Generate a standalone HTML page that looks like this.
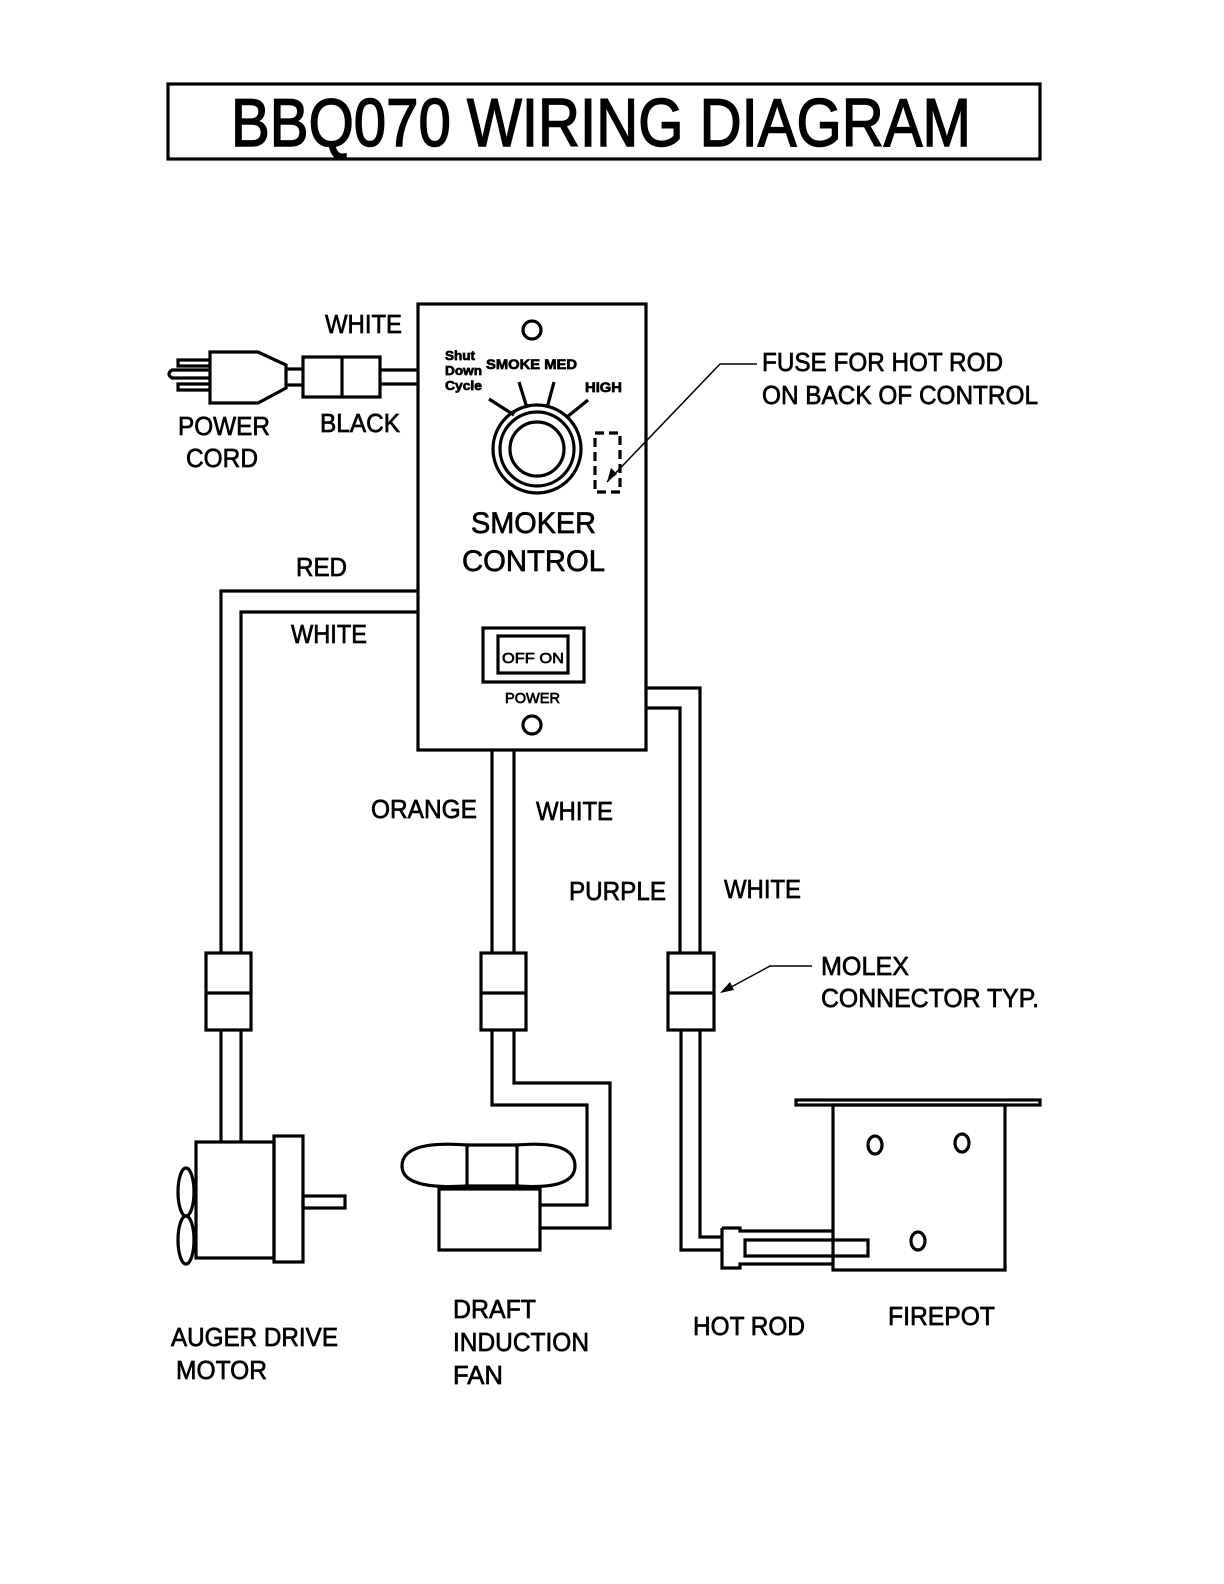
<!DOCTYPE html>
<html><head><meta charset="utf-8"><style>
html,body{margin:0;padding:0;background:#fff}
svg{display:block}
text{font-family:"Liberation Sans",sans-serif;fill:#000;stroke:#000;stroke-width:0.7}
</style></head><body>
<svg width="1224" height="1584" viewBox="0 0 1224 1584" xmlns="http://www.w3.org/2000/svg">
<g fill="none" stroke="#000" stroke-width="3.2">
<rect x="168" y="84" width="872" height="75"/>
<rect x="418" y="304" width="228" height="446"/>
<circle cx="532" cy="330" r="9"/>
<circle cx="532" cy="725" r="9"/>
<circle cx="537" cy="449" r="44"/>
<circle cx="537" cy="449" r="37"/>
<circle cx="537" cy="449" r="27"/>
<line x1="514" y1="415" x2="489" y2="399"/>
<line x1="527" y1="408" x2="519" y2="382"/>
<line x1="547" y1="408" x2="554" y2="382"/>
<line x1="567" y1="417" x2="588" y2="400"/>
<rect x="595" y="433" width="25" height="59" stroke-dasharray="9,5"/>
<rect x="483" y="628" width="101" height="54"/>
<rect x="498" y="636" width="70" height="37"/>
<path d="M210 352 L258 352 L286 365 L286 388 L258 403 L210 403 Z"/>
<path d="M210 360 L178 360 L178 366 L210 366 M210 370 L172 370 Q166 374 172 378 L210 378 M210 384 L178 384 L178 390 L210 390"/>
<line x1="286" y1="369" x2="303" y2="369"/><line x1="286" y1="385" x2="303" y2="385"/>
<rect x="303" y="357" width="77" height="40"/>
<line x1="342" y1="357" x2="342" y2="397"/>
<line x1="380" y1="370" x2="418" y2="370"/><line x1="380" y1="384" x2="418" y2="384"/>
<path d="M418 591 L221 591 L221 953 M418 612 L241 612 L241 953"/>
<rect x="206" y="953" width="45" height="77"/>
<line x1="206" y1="993" x2="251" y2="993"/>
<path d="M221 1030 L221 1142 M241 1030 L241 1142"/>
<rect x="196" y="1142" width="78" height="116"/>
<rect x="274" y="1136" width="29" height="126"/>
<rect x="303" y="1196" width="42" height="12"/>
<ellipse cx="186" cy="1192" rx="8" ry="24"/>
<ellipse cx="186" cy="1240" rx="8" ry="24"/>
<path d="M492 750 L492 953 M514 750 L514 953"/>
<rect x="481" y="953" width="45" height="77"/>
<line x1="481" y1="993" x2="526" y2="993"/>
<path d="M492 1030 L492 1105 L587 1105 L587 1205 L540 1205 M514 1030 L514 1083 L610 1083 L610 1228 L540 1228"/>
<path d="M467 1145 L517 1145 M467 1186 L517 1186"/>
<path d="M467 1145 Q402 1140 402 1166 Q402 1190 467 1186 M517 1145 Q575 1140 575 1166 Q575 1190 517 1186"/>
<line x1="467" y1="1145" x2="467" y2="1186"/><line x1="517" y1="1145" x2="517" y2="1186"/>
<rect x="439" y="1189" width="101" height="61"/>
<path d="M646 688 L700 688 L700 953 M646 708 L680 708 L680 953"/>
<rect x="668" y="953" width="46" height="77"/>
<line x1="668" y1="993" x2="714" y2="993"/>
<path d="M681 1030 L681 1250 L722 1250 M700 1030 L700 1237 L722 1237"/>
<path d="M722 1228 L740 1228 L740 1231 L833 1231 M868 1240 L745 1240 L745 1256 L868 1256 Z M722 1228 L722 1268 L740 1268 L740 1264 L833 1264"/>
<rect x="796" y="1100" width="244" height="5"/>
<rect x="833" y="1105" width="172" height="165"/>
<ellipse cx="875" cy="1145" rx="7" ry="9"/>
<ellipse cx="962" cy="1143" rx="7" ry="9"/>
<ellipse cx="918" cy="1241" rx="7" ry="9"/>
</g>
<g stroke="#000" stroke-width="1.5" fill="none">
<path d="M757 364 L720 364 L607 482"/>
<path d="M812 966 L770 966 L722 992"/>
</g>
<path d="M607 482 L611 468 L617 474 Z" fill="#000"/>
<path d="M720 993 L730 982 L734 990 Z" fill="#000"/>
<text x="231" y="146" font-size="68" style="stroke-width:1.5" textLength="740" lengthAdjust="spacingAndGlyphs">BBQ070 WIRING DIAGRAM</text>
<g font-size="26">
<text x="325" y="333" textLength="77" lengthAdjust="spacingAndGlyphs">WHITE</text>
<text x="178" y="435" textLength="92" lengthAdjust="spacingAndGlyphs">POWER</text>
<text x="186" y="467" textLength="72" lengthAdjust="spacingAndGlyphs">CORD</text>
<text x="320" y="432" textLength="80" lengthAdjust="spacingAndGlyphs">BLACK</text>
<text x="471" y="533" font-size="30" textLength="125" lengthAdjust="spacingAndGlyphs">SMOKER</text>
<text x="462" y="571" font-size="30" textLength="143" lengthAdjust="spacingAndGlyphs">CONTROL</text>
<text x="296" y="576" textLength="51" lengthAdjust="spacingAndGlyphs">RED</text>
<text x="291" y="643" textLength="76" lengthAdjust="spacingAndGlyphs">WHITE</text>
<text x="762" y="371" textLength="241" lengthAdjust="spacingAndGlyphs">FUSE FOR HOT ROD</text>
<text x="762" y="404" textLength="276" lengthAdjust="spacingAndGlyphs">ON BACK OF CONTROL</text>
<text x="371" y="818" textLength="106" lengthAdjust="spacingAndGlyphs">ORANGE</text>
<text x="536" y="820" textLength="77" lengthAdjust="spacingAndGlyphs">WHITE</text>
<text x="569" y="900" textLength="97" lengthAdjust="spacingAndGlyphs">PURPLE</text>
<text x="724" y="898" textLength="77" lengthAdjust="spacingAndGlyphs">WHITE</text>
<text x="821" y="975" textLength="88" lengthAdjust="spacingAndGlyphs">MOLEX</text>
<text x="821" y="1007" textLength="218" lengthAdjust="spacingAndGlyphs">CONNECTOR TYP.</text>
<text x="171" y="1346" textLength="167" lengthAdjust="spacingAndGlyphs">AUGER DRIVE</text>
<text x="176" y="1379" textLength="91" lengthAdjust="spacingAndGlyphs">MOTOR</text>
<text x="453" y="1318" textLength="83" lengthAdjust="spacingAndGlyphs">DRAFT</text>
<text x="453" y="1351" textLength="136" lengthAdjust="spacingAndGlyphs">INDUCTION</text>
<text x="453" y="1384" textLength="50" lengthAdjust="spacingAndGlyphs">FAN</text>
<text x="693" y="1335" textLength="112" lengthAdjust="spacingAndGlyphs">HOT ROD</text>
<text x="888" y="1325" textLength="107" lengthAdjust="spacingAndGlyphs">FIREPOT</text>
</g>
<g font-size="14" font-weight="bold">
<text x="445" y="360" font-size="13" textLength="30" lengthAdjust="spacingAndGlyphs">Shut</text>
<text x="445" y="375" font-size="13" textLength="37" lengthAdjust="spacingAndGlyphs">Down</text>
<text x="445" y="390" font-size="13" textLength="37" lengthAdjust="spacingAndGlyphs">Cycle</text>
<text x="486" y="369" textLength="91" lengthAdjust="spacingAndGlyphs">SMOKE MED</text>
<text x="585" y="392" textLength="37" lengthAdjust="spacingAndGlyphs">HIGH</text>
</g>
<text x="502" y="663" font-size="15" textLength="62" lengthAdjust="spacingAndGlyphs">OFF  ON</text>
<text x="505" y="703" font-size="15" textLength="55" lengthAdjust="spacingAndGlyphs">POWER</text>
</svg>
</body></html>
